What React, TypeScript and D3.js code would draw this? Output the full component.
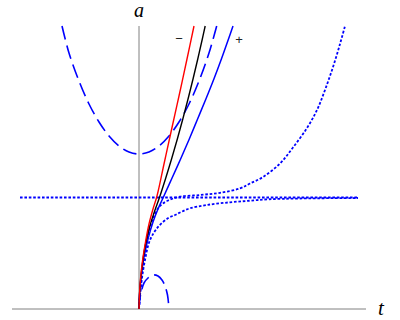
import React from "react";
import { scaleLinear, line, curveCatmullRom } from "d3";

// values: t (time) and a (scale factor)
const tRange = [-1.27, 2.27];
const aRange = [0, 2.83];

const staticT = [-1.19, 2.19];
const staticA = [1.115, 1.115];

const bounceT = [-0.77, -0.7, -0.6, -0.5, -0.4, -0.3, -0.2, -0.1, 0, 0.1, 0.2, 0.3, 0.4, 0.5, 0.6, 0.7, 0.777];
const bounceA = [2.83, 2.56, 2.28, 2.05, 1.87, 1.73, 1.63, 1.57, 1.55, 1.57, 1.63, 1.73, 1.87, 2.05, 2.28, 2.56, 2.83];

const recollapseT = [0, 0.01, 0.027, 0.05, 0.09, 0.14, 0.19, 0.23, 0.26, 0.285, 0.3];
const recollapseA = [0, 0.11, 0.19, 0.26, 0.31, 0.34, 0.33, 0.29, 0.23, 0.14, 0];

const loiterT = [0, 0.015, 0.035, 0.065, 0.1, 0.15, 0.21, 0.29, 0.41, 0.61, 0.81, 1.01, 1.11, 1.24, 1.41, 1.54, 1.68, 1.78, 1.86, 1.94, 2.01, 2.06];
const loiterA = [0, 0.19, 0.4, 0.6, 0.78, 0.93, 1.03, 1.085, 1.123, 1.14, 1.162, 1.206, 1.255, 1.32, 1.455, 1.615, 1.81, 1.99, 2.19, 2.42, 2.65, 2.83];

const approachT = [0, 0.01, 0.027, 0.06, 0.11, 0.193, 0.293, 0.36, 0.427, 0.51, 0.677, 0.91, 1.11, 1.29, 1.61, 2.19];
const approachA = [0, 0.14, 0.29, 0.49, 0.69, 0.823, 0.91, 0.94, 0.973, 1.007, 1.04, 1.067, 1.083, 1.097, 1.105, 1.11];

const plusT = [0, 0.003, 0.01, 0.025, 0.05, 0.09, 0.14, 0.19, 0.24, 0.326, 0.416, 0.503, 0.586, 0.669, 0.749, 0.824, 0.895, 0.94];
const plusA = [0, 0.1, 0.2, 0.35, 0.52, 0.7, 0.87, 1.0, 1.11, 1.3, 1.5, 1.7, 1.9, 2.1, 2.3, 2.5, 2.7, 2.83];

const flatT = [0, 0.004, 0.012, 0.03, 0.06, 0.1, 0.15, 0.203, 0.2645, 0.3256, 0.3834, 0.4382, 0.4904, 0.5402, 0.5877, 0.6332, 0.6618];
const flatA = [0, 0.12, 0.25, 0.42, 0.62, 0.8, 0.96, 1.11, 1.3, 1.5, 1.7, 1.9, 2.1, 2.3, 2.5, 2.7, 2.83];

const minusT = [0, 0.005, 0.015, 0.035, 0.065, 0.1, 0.14, 0.18, 0.25, 0.32, 0.4, 0.48, 0.55];
const minusA = [0, 0.15, 0.3, 0.48, 0.67, 0.85, 1.0, 1.13, 1.45, 1.77, 2.13, 2.5, 2.83];

const W = 400;
const H = 320;

const x = scaleLinear().domain(tRange).range([12, 366]);
const y = scaleLinear().domain(aRange).range([309, 26]);

const pathOf = (ts: number[], as: number[]) =>
  line<number>()
    .x((d) => x(ts[d]))
    .y((d) => y(as[d]))
    .curve(curveCatmullRom.alpha(0.5))(ts.map((_, i) => i)) || "";

const curves = [
  { t: staticT, a: staticA, color: "#0000ff", dash: "2.6,1.8", width: 1.8 },
  { t: approachT, a: approachA, color: "#0000ff", dash: "2.6,1.8", width: 1.8 },
  { t: loiterT, a: loiterA, color: "#0000ff", dash: "2.6,1.8", width: 1.8 },
  { t: bounceT, a: bounceA, color: "#0000ff", dash: "14,6", width: 1.6 },
  { t: recollapseT, a: recollapseA, color: "#0000ff", dash: "14,6", width: 1.6 },
  { t: plusT, a: plusA, color: "#0000ff", dash: null, width: 1.5 },
  { t: flatT, a: flatA, color: "#000000", dash: null, width: 1.4 },
  { t: minusT, a: minusA, color: "#ff0000", dash: null, width: 1.4 },
];

export default function App() {
  return (
    <svg
      width={W}
      height={H}
      style={{ position: "absolute", left: 0, top: 0, background: "#fff" }}
    >
      {/* axes */}
      <line x1={x(tRange[0])} x2={x(tRange[1])} y1={y(0)} y2={y(0)} stroke="#808080" strokeWidth={1} />
      <line x1={x(0)} x2={x(0)} y1={y(0)} y2={y(aRange[1])} stroke="#808080" strokeWidth={1} />

      {curves.map((c, i) => (
        <path
          key={i}
          d={pathOf(c.t, c.a)}
          fill="none"
          stroke={c.color}
          strokeWidth={c.width}
          strokeDasharray={c.dash || undefined}
        />
      ))}

      <text x={x(0)} y={17} textAnchor="middle" fontFamily="Liberation Serif" fontStyle="italic" fontSize={20}>
        a
      </text>
      <text x={381} y={315} textAnchor="middle" fontFamily="Liberation Serif" fontStyle="italic" fontSize={21}>
        t
      </text>
      <text x={179} y={43} textAnchor="middle" fontFamily="Liberation Sans" fontSize={13} fill="#222">
        −
      </text>
      <text x={239} y={44} textAnchor="middle" fontFamily="Liberation Sans" fontSize={13} fill="#222">
        +
      </text>
    </svg>
  );
}
